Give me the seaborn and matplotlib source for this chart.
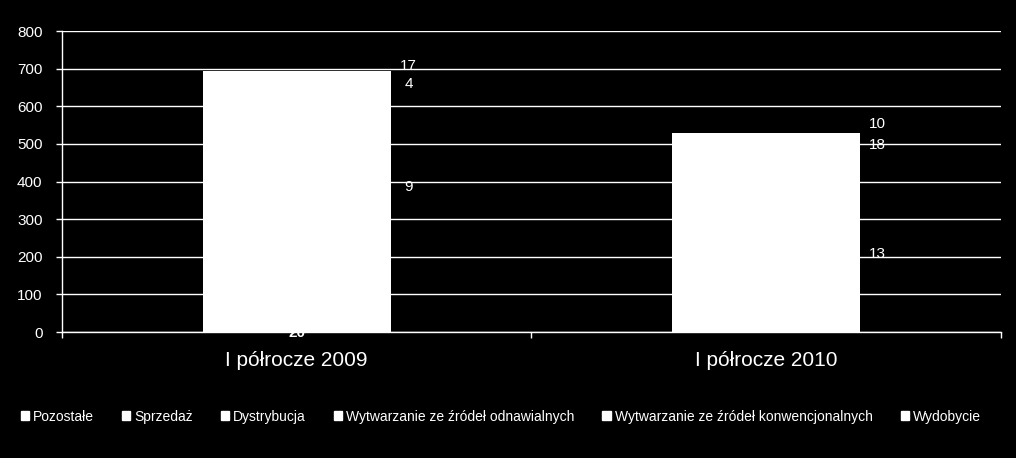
import seaborn as sns
import matplotlib.pyplot as plt
import pandas as pd
from matplotlib.patches import Patch

# Dane
okresy = ["I półrocze 2009", "I półrocze 2010"]
segmenty = ["Pozostałe", "Sprzedaż", "Dystrybucja",
            "Wytwarzanie ze źródeł odnawialnych",
            "Wytwarzanie ze źródeł konwencjonalnych", "Wydobycie"]
wartosci_2009 = [20, 9, 4, 17, 392, 252]
wartosci_2010 = [25, 13, 18, 10, 300, 163]

# etykiety widoczne na wykresie (wartość, wysokość etykiety)
etykiety_2009 = [("17", 707), ("4", 660), ("9", 386)]
etykiety_2010 = [("10", 553), ("18", 497), ("13", 207)]

plt.rcParams['font.family'] = ['Liberation Sans', 'DejaVu Sans']

tabela = pd.DataFrame({okresy[0]: wartosci_2009, okresy[1]: wartosci_2010}, index=segmenty)
skumulowane = tabela.cumsum()

fig, ax = plt.subplots(figsize=(10.16, 4.58), dpi=100)
fig.patch.set_facecolor("black")
ax.set_facecolor("black")
fig.subplots_adjust(left=0.061, right=0.985, top=0.932, bottom=0.275)

# Słupki skumulowane - od góry do dołu
for seg in reversed(segmenty):
    sns.barplot(x=okresy, y=skumulowane.loc[seg].values, color="white",
                saturation=1, width=0.4, linewidth=0, ax=ax)

ax.set_xlim(-0.5, 1.5)
ax.set_ylim(0, 800)
ax.set_yticks(range(0, 801, 100))
ax.set_axisbelow(True)
ax.yaxis.grid(True, color="white", linewidth=1)
ax.xaxis.grid(False)

for s in ["top", "right"]:
    ax.spines[s].set_visible(False)
for s in ["left", "bottom"]:
    ax.spines[s].set_color("white")
    ax.spines[s].set_linewidth(1)

ax.tick_params(axis="y", colors="white", labelsize=11, length=4, width=1, pad=10)
ax.tick_params(axis="x", which="major", colors="white", labelsize=15, length=0, pad=14)
ax.set_xticks([-0.5, 0.5, 1.5], minor=True)
ax.tick_params(axis="x", which="minor", colors="white", length=4.5, width=1)
ax.set_xlabel("")
ax.set_ylabel("")

# Etykiety danych
ax.text(0, -3, str(wartosci_2009[0]), color="white", fontsize=11, fontweight="bold",
        ha="center", va="center")
for i, etykiety in enumerate([etykiety_2009, etykiety_2010]):
    for tekst, y in etykiety:
        ax.text(i + 0.238, y, tekst, color="white", fontsize=11, ha="center", va="center")

# Legenda
uchwyty = [Patch(facecolor="white", edgecolor="white", label=s) for s in segmenty]
leg = fig.legend(handles=uchwyty, loc="center", bbox_to_anchor=(0.493, 0.09), ncol=6,
                 frameon=False, fontsize=10, handlelength=0.6, handleheight=0.6,
                 handletextpad=0.3, columnspacing=2.0, labelcolor="white")

fig.savefig("out.png", facecolor="black")
